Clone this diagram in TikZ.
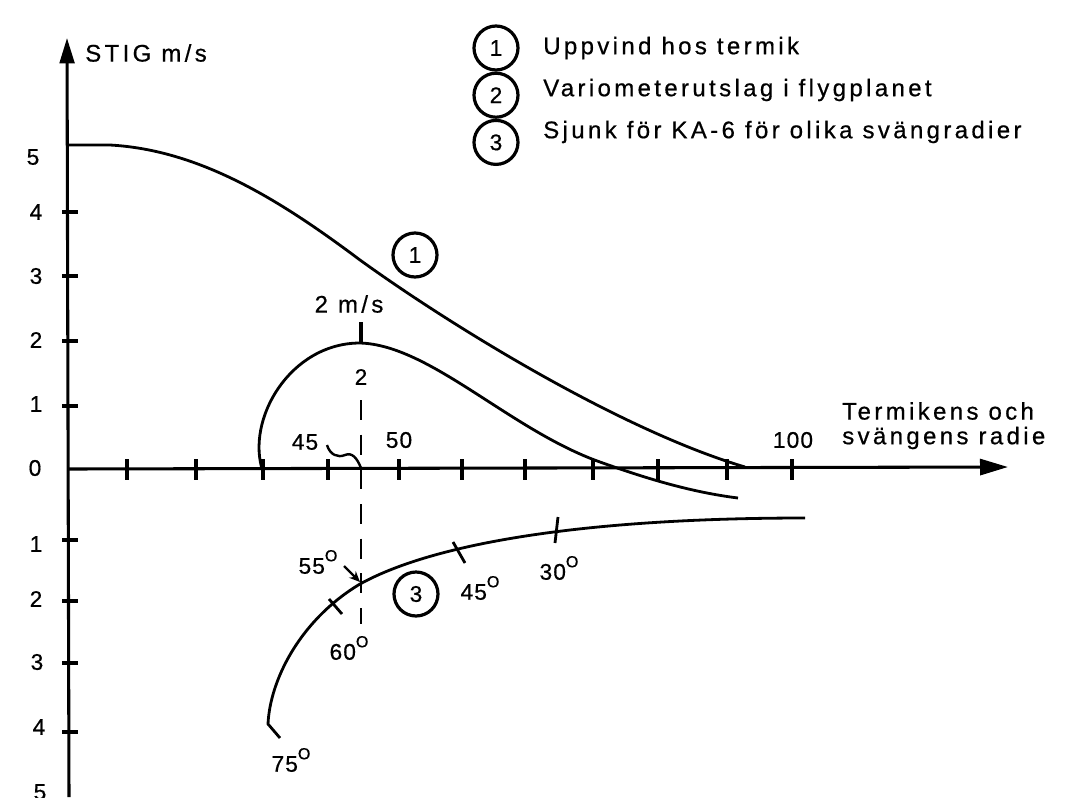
\documentclass[tikz,border=0pt]{standalone}
\usepackage{fontspec}
\setmainfont{Liberation Sans}[LetterSpace=14, FakeBold=0.6]
\newfontfamily\numfont{Liberation Sans}[LetterSpace=5, FakeBold=0.6]
\usetikzlibrary{arrows.meta}
\newcommand{\dg}{\raisebox{0.55em}{\fontsize{12}{12}\selectfont O}}
\begin{document}
\begin{tikzpicture}[x=0.75pt,y=-0.75pt,
  axis/.style={line width=2.3pt},
  tickmark/.style={line width=2.3pt},
  curve/.style={line width=2.1pt},
  lbl/.style={font=\fontsize{18}{20}\selectfont, inner sep=0pt},
  num/.style={font=\numfont\fontsize{17}{19}\selectfont, inner sep=0pt},
  ring/.style={circle, draw, line width=2.4pt, minimum size=31pt, inner sep=0pt, font=\numfont\fontsize{17}{19}\selectfont},
  bigring/.style={ring, minimum size=33pt},
  dashline/.style={line width=2pt, dash pattern=on 15pt off 11pt}
]
\useasboundingbox (0,0) rectangle (1065,797);
% axes
\coordinate (O) at (68,469);
\coordinate (ytop) at (67,38);
\coordinate (ybot) at (69,797);
\coordinate (xend) at (1008,467);
\draw[axis, -{Triangle[length=19pt,width=11pt]}] (ybot) -- (ytop);
\draw[axis, -{Triangle[length=21pt,width=12pt]}] (O) -- (xend);
% y ticks
\foreach \yy in {212,276,341,406,540,601,663,732} \draw[tickmark] (62,\yy) -- (78,\yy);
% x ticks
\foreach \xx in {127,196,263,328,399,462,525,593,658,727,792} \draw[tickmark] (\xx,459) -- (\xx,480);
% y labels
\node[num] (y5) at (33,157) {5};
\node[num] (y4) at (36,212) {4};
\node[num] (y3) at (36,276) {3};
\node[num] (y2) at (36,340) {2};
\node[num] (y1) at (36,404) {1};
\node[num] (y0) at (35,468) {0};
\node[num] (ym1) at (36,544) {1};
\node[num] (ym2) at (36,599) {2};
\node[num] (ym3) at (37,662) {3};
\node[num] (ym4) at (39,727) {4};
\node[num] (ym5) at (40,792) {5};
\node[lbl, anchor=west] (stig) at (85,53) {STIG m/s};
% x labels
\node[num] (x45) at (305,442) {45};
\node[num] (x50) at (399,440) {50};
\node[num] (x100) at (793,440) {100};
\node[lbl, anchor=west] (term) at (842,411) {Termikens och};
\node[lbl, anchor=west] (svang) at (842,438) {svängens radie};
% curve 1: uppvind
\draw[curve] (68,145) -- (110,145) .. controls (200,150) and (280,200) .. (360,260)
  .. controls (450,325) and (620,430) .. (745,467);
% curve 2: variometer
\draw[curve] (263,472) .. controls (245,420) and (290,343) .. (360,343)
  .. controls (430,345) and (510,430) .. (600,462)
  .. controls (645,478) and (690,492) .. (738,498);
% curve 3: sjunk
\draw[curve] (280,738) -- (268,724) .. controls (270,680) and (300,620) .. (360,584)
  .. controls (440,540) and (600,518) .. (805,518);
% marks on curve 3
\draw[curve] (329,599) -- (342,614);
\draw[curve] (453,542) -- (465,563);
\draw[curve] (558,517) -- (555,543);
\draw[line width=1.8pt, -{Stealth[length=8pt,width=7pt]}] (344,566) -- (360,582);
% degree labels
\node[num] (d55) at (318,562) {55\dg};
\node[num] (d60) at (349,648) {60\dg};
\node[num] (d45) at (480,588) {45\dg};
\node[num] (d30) at (559,568) {30\dg};
\node[num] (d75) at (291,760) {75\dg};
% vertical dashed line at peak
\coordinate (ptop) at (361,322);
\coordinate (peak) at (361,343);
\coordinate (pbot) at (361,624);
\draw[tickmark] (ptop) -- (peak);
\draw[dashline] (361,400) -- (pbot);
\node[lbl] (ms2) at (349,304) {2 m/s};
\node[num] (two) at (361,377) {2};
% squiggle from 45 label
\draw[line width=1.8pt] (327,445) .. controls (330,455) and (338,458) .. (345,455) .. controls (352,452) and (357,458) .. (361,468);
% circled numbers on curves
\node[bigring] (c1) at (415,255) {1};
\node[bigring] (c3) at (416,594) {3};
% legend
\node[bigring] (l1) at (496,48) {1};
\node[bigring, anchor=north] (l2) at (l1.south) {2};
\node[bigring, anchor=north] (l3) at (l2.south) {3};
\node[lbl, anchor=west] (t1) at (543,48) {Uppvind hos termik};
\node[lbl, anchor=west] (t2) at (543,90) {Variometerutslag i flygplanet};
\node[lbl, anchor=west] (t3) at (543,132) {Sjunk för KA-6 för olika svängradier};
\end{tikzpicture}
\end{document}
